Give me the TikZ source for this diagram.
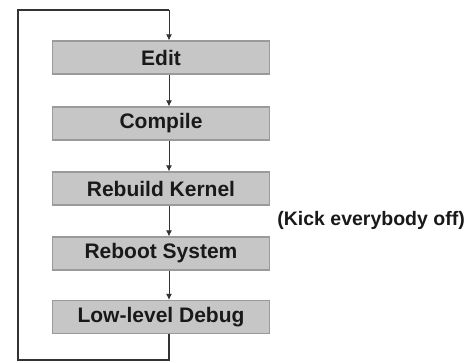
\documentclass[tikz,border=0pt]{standalone}
\usepackage{fontspec}
\setmainfont{Liberation Sans}
\usetikzlibrary{arrows.meta}
\definecolor{boxfill}{HTML}{C6C6C6}
\definecolor{boxline}{HTML}{9A9A9A}
\definecolor{linec}{HTML}{333333}
\tikzset{
  stepbox/.style={draw=boxline, line width=1.2pt, fill=boxfill, minimum width=217pt, minimum height=33pt, inner sep=0pt, font=\fontsize{21}{22}\selectfont\bfseries, text=black!90},
  flow/.style={draw=linec, line width=1pt, -{Latex[length=6pt,width=6pt]}},
  loopline/.style={draw=linec, line width=1.3pt}
}
\begin{document}
\begin{tikzpicture}[x=1pt,y=-1pt]
\useasboundingbox (0,0) rectangle (468,363);
\node[stepbox] (edit) at (161,57.5) {Edit};
\node[stepbox] (compile) at (161,123.5) {Compile};
\node[stepbox] (rebuild) at (161,188.5) {Rebuild Kernel};
\node[stepbox] (reboot) at (161,253.5) {Reboot System};
\node[stepbox] (debug) at (161,317) {Low-level Debug};
\node[anchor=east, font=\fontsize{19.5}{21}\selectfont\bfseries, text=black!90, inner sep=0pt] (kick) at (465,220) {(Kick everybody off)};
\coordinate (tl) at (18,10);
\coordinate (bl) at (18,360);
\draw[flow] (edit.south -| 169,0) -- (compile.north -| 169,0);
\draw[flow] (compile.south -| 169,0) -- (rebuild.north -| 169,0);
\draw[flow] (rebuild.south -| 169,0) -- (reboot.north -| 169,0);
\draw[flow] (reboot.south -| 169,0) -- (debug.north -| 169,0);
\draw[loopline] (debug.south -| 169,0) -- (169,360) -- (bl) -- (tl) -- (169,10);
\draw[flow] (169,10) -- (edit.north -| 169,0);
\end{tikzpicture}
\end{document}
